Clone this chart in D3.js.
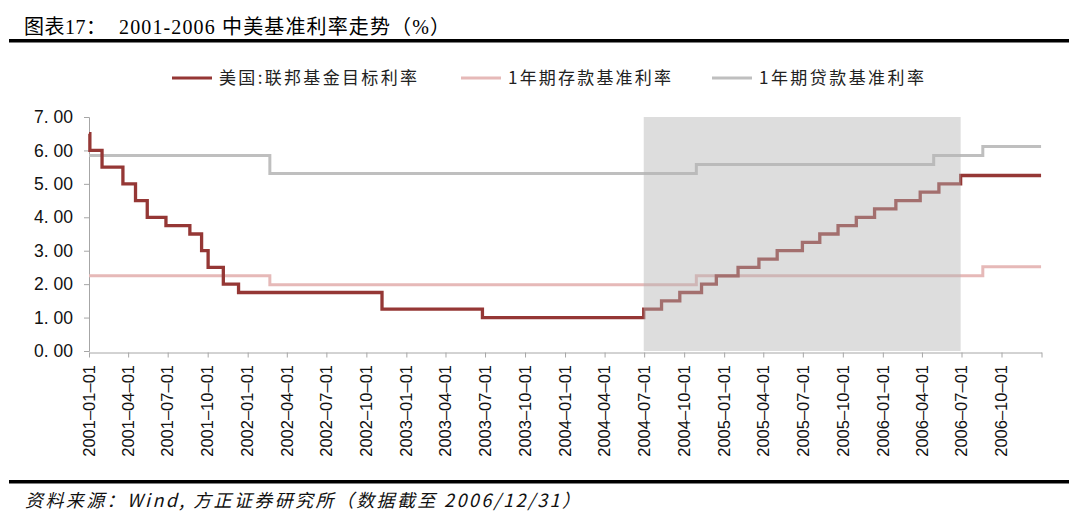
<!DOCTYPE html>
<html>
<head>
<meta charset="utf-8">
<script src="https://cdn.jsdelivr.net/npm/d3@7/dist/d3.min.js"></script>
<style>
  body { margin: 0; background: #fff; }
  svg { display: block; }
</style>
</head>
<body>
<div class="chart"></div>
<script>
// series data (step changes; the value holds until the next date)
const fedDates = ["2001-01-01", "2001-01-03", "2001-01-31", "2001-03-20", "2001-04-18", "2001-05-15",
  "2001-06-27", "2001-08-21", "2001-09-17", "2001-10-02", "2001-11-06", "2001-12-11", "2002-11-06",
  "2003-06-25", "2004-06-30", "2004-08-10", "2004-09-21", "2004-11-10", "2004-12-14", "2005-02-02",
  "2005-03-22", "2005-05-03", "2005-06-30", "2005-08-09", "2005-09-20", "2005-11-01", "2005-12-13",
  "2006-01-31", "2006-03-28", "2006-05-10", "2006-06-29", "2006-12-31"];
const fedValues = [6.50, 6.00, 5.50, 5.00, 4.50, 4.00, 3.75, 3.50, 3.00, 2.50, 2.00, 1.75, 1.25,
  1.00, 1.25, 1.50, 1.75, 2.00, 2.25, 2.50, 2.75, 3.00, 3.25, 3.50, 3.75, 4.00, 4.25,
  4.50, 4.75, 5.00, 5.25, 5.25];

const depositDates = ["2001-01-01", "2002-02-21", "2004-10-29", "2006-08-19", "2006-12-31"];
const depositValues = [2.25, 1.98, 2.25, 2.52, 2.52];

const loanDates = ["2001-01-01", "2002-02-21", "2004-10-29", "2006-04-28", "2006-08-19", "2006-12-31"];
const loanValues = [5.85, 5.31, 5.58, 5.85, 6.12, 6.12];

const seriesNames = ["美国:联邦基金目标利率", "1年期存款基准利率", "1年期贷款基准利率"];
const seriesColors = ["#953735", "#e6b9b8", "#bfbfbf"];

// shaded period (US hiking cycle)
const shadeRange = ["2004-06-30", "2006-06-29"];

// axis ticks
const yTicks = [0, 1, 2, 3, 4, 5, 6, 7];
const yTickLabels = ["0. 00", "1. 00", "2. 00", "3. 00", "4. 00", "5. 00", "6. 00", "7. 00"];
const xTickLabels = ["2001-01-01", "2001-04-01", "2001-07-01", "2001-10-01",
  "2002-01-01", "2002-04-01", "2002-07-01", "2002-10-01",
  "2003-01-01", "2003-04-01", "2003-07-01", "2003-10-01",
  "2004-01-01", "2004-04-01", "2004-07-01", "2004-10-01",
  "2005-01-01", "2005-04-01", "2005-07-01", "2005-10-01",
  "2006-01-01", "2006-04-01", "2006-07-01", "2006-10-01"];

const parse = d3.timeParse("%Y-%m-%d");

const W = 1080, H = 520;
const svg = d3.select(".chart").append("svg").attr("width", W).attr("height", H);

const plotLeft = 89, plotRight = 1041.5, plotTop = 117, plotBottom = 351;

const x = d3.scaleTime()
  .domain([parse("2001-01-01"), parse("2007-01-01")])
  .range([plotLeft, plotRight]);
const y = d3.scaleLinear().domain([0, 7]).range([plotBottom, plotTop]);

// title
svg.append("text")
  .attr("x", 24).attr("y", 34)
  .attr("font-family", "'Liberation Serif', 'Noto Sans CJK SC'")
  .attr("font-size", 20).attr("fill", "#000")
  .attr("textLength", 82).attr("lengthAdjust", "spacing")
  .text("图表17：");
svg.append("text")
  .attr("x", 119).attr("y", 34)
  .attr("font-family", "'Liberation Serif', 'Noto Sans CJK SC'")
  .attr("font-size", 20).attr("fill", "#000")
  .attr("textLength", 331).attr("lengthAdjust", "spacing")
  .text("2001-2006 中美基准利率走势（%）");

svg.append("rect").attr("x", 9).attr("y", 39).attr("width", 1060).attr("height", 3.5).attr("fill", "#000");

// legend
const legendX = [172, 461, 712];
const legendLen = [198, 163, 165];
seriesNames.forEach((name, i) => {
  svg.append("line")
    .attr("x1", legendX[i]).attr("x2", legendX[i] + 40)
    .attr("y1", 78).attr("y2", 78)
    .attr("stroke", seriesColors[i]).attr("stroke-width", 3);
  svg.append("text")
    .attr("x", legendX[i] + 47).attr("y", 84)
    .attr("font-family", "'Noto Sans CJK SC'")
    .attr("font-size", 17).attr("fill", "#222")
    .attr("textLength", legendLen[i]).attr("lengthAdjust", "spacing")
    .text(name);
});

// axes
const yAxis = svg.append("g")
  .attr("transform", `translate(${plotLeft},0)`)
  .call(d3.axisLeft(y).tickValues(yTicks).tickSize(5).tickPadding(11)
    .tickFormat((d, i) => yTickLabels[i]));
yAxis.select(".domain").attr("stroke", "#a6a6a6");
yAxis.selectAll(".tick line").attr("stroke", "#a6a6a6");
yAxis.selectAll("text")
  .attr("font-family", "'Liberation Sans', Arial")
  .attr("font-size", 17.5).attr("fill", "#111");

const xAxis = svg.append("g")
  .attr("transform", `translate(0,${plotBottom + 1.5})`)
  .call(d3.axisBottom(x)
    .tickValues(xTickLabels.map(parse).concat([parse("2007-01-01")]))
    .tickSize(5).tickSizeOuter(0).tickFormat(""));
xAxis.select(".domain").attr("stroke", "#a6a6a6");
xAxis.selectAll(".tick line").attr("stroke", "#a6a6a6");

svg.append("g").selectAll("text")
  .data(xTickLabels)
  .join("text")
  .attr("transform", d => `translate(${x(parse(d))},${plotBottom + 14}) rotate(-90)`)
  .attr("text-anchor", "end")
  .attr("dy", "0.35em")
  .attr("font-family", "'Liberation Sans', Arial")
  .attr("font-size", 16.5).attr("fill", "#111")
  .text(d => d.replace(/-/g, "–"));

// lines
const line = d3.line()
  .x(d => x(d[0]))
  .y(d => y(d[1]))
  .curve(d3.curveStepAfter);

const allSeries = [
  [fedDates, fedValues],
  [depositDates, depositValues],
  [loanDates, loanValues]
];

[2, 1, 0].forEach(i => {
  const pts = allSeries[i][0].map((d, j) => [parse(d), allSeries[i][1][j]]);
  svg.append("path")
    .attr("d", line(pts))
    .attr("fill", "none")
    .attr("stroke", seriesColors[i])
    .attr("stroke-width", i === 0 ? 3.3 : 3)
    .attr("stroke-linejoin", "miter");
});

// shaded period drawn over the lines
svg.append("rect")
  .attr("x", x(parse(shadeRange[0])))
  .attr("y", plotTop)
  .attr("width", x(parse(shadeRange[1])) - x(parse(shadeRange[0])))
  .attr("height", plotBottom - plotTop)
  .attr("fill", "#b4b4b4")
  .attr("opacity", 0.45);

// footer
svg.append("rect").attr("x", 9).attr("y", 480).attr("width", 1060).attr("height", 3.5).attr("fill", "#000");
svg.append("text")
  .attr("x", 25).attr("y", 507)
  .attr("font-family", "'Noto Sans CJK SC'")
  .attr("font-style", "italic")
  .attr("font-size", 18).attr("fill", "#111")
  .attr("textLength", 555).attr("lengthAdjust", "spacing")
  .text("资料来源：Wind, 方正证券研究所（数据截至 2006/12/31）");
</script>
</body>
</html>
